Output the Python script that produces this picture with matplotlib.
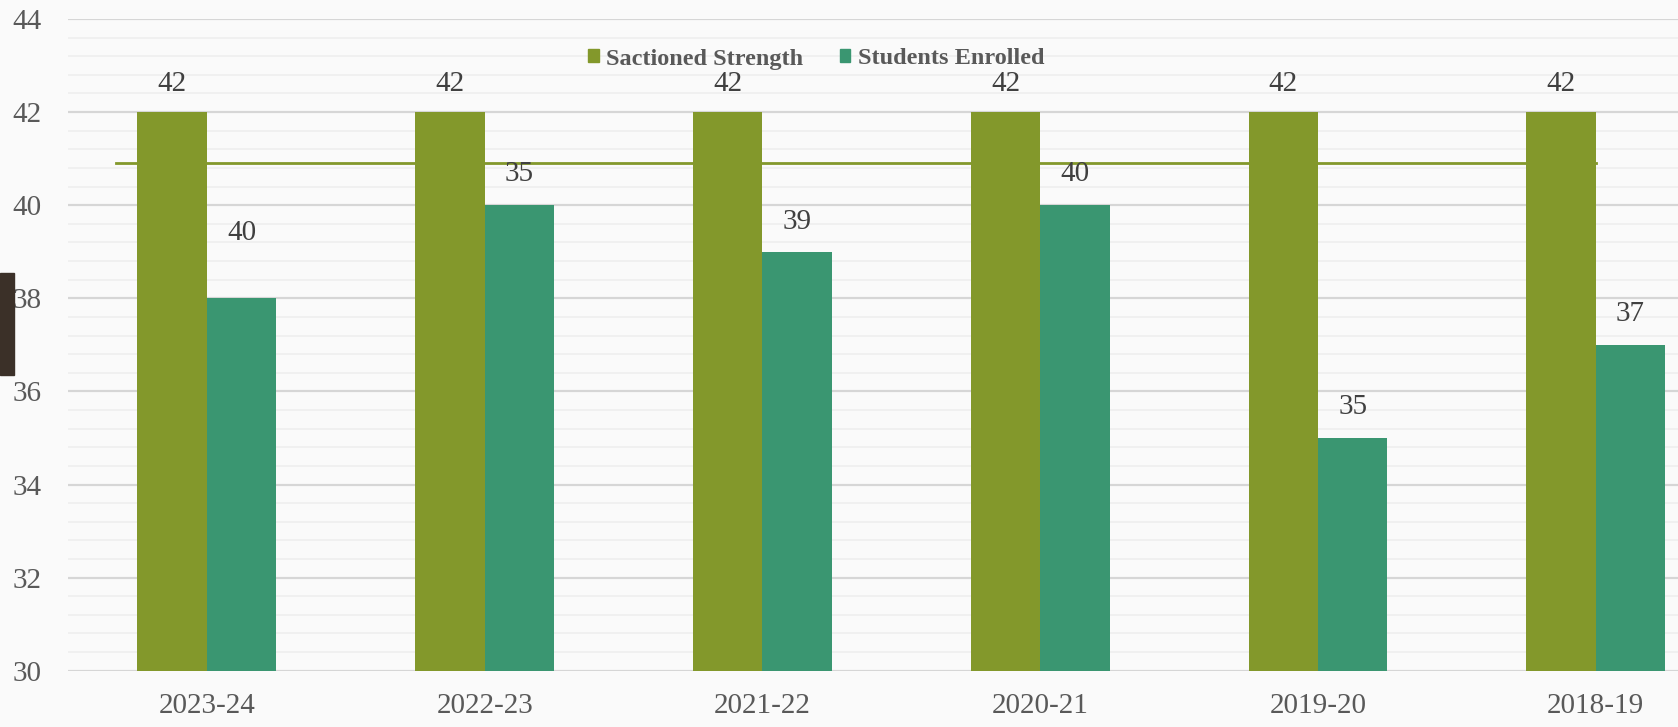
## Sanctioned strength vs students enrolled, bar chart
import numpy as np
import matplotlib
matplotlib.use('Agg')
import matplotlib.pyplot as plt
from matplotlib.patches import Rectangle

## data
years = ['2023-24', '2022-23', '2021-22', '2020-21', '2019-20', '2018-19']
sanctioned = [42, 42, 42, 42, 42, 42]
enrolled = [38, 40, 39, 40, 35, 37]
enrolled_labels = ['40', '35', '39', '40', '35', '37']   # labels as printed on the chart
sanctioned_labels = ['42', '42', '42', '42', '42', '42']
avg_line = 40.91

olive = '#83982B'
teal = '#3A9671'
plt.rcParams['font.family'] = ['Liberation Serif', 'DejaVu Serif']

fig = plt.figure(figsize=(16.78, 7.27), dpi=100)
fig.patch.set_facecolor('#FAFAFA')
ax = fig.add_axes([0.0405, 0.0774, 0.9595, 0.8965])
ax.set_facecolor('#FAFAFA')

x = np.arange(len(years))
w = 0.25
ax.bar(x - w/2, sanctioned, w, color=olive, zorder=3, linewidth=0)
ax.bar(x + w/2, enrolled, w, color=teal, zorder=3, linewidth=0)

# horizontal olive line running behind the bars
ax.plot([-0.328, x[-1]], [avg_line, avg_line], color=olive, lw=2, zorder=2)

# data labels
lift = [1.40, 0.66, 0.64, 0.66, 0.66, 0.66]
for i in range(len(years)):
    ax.text(x[i] - w/2, sanctioned[i] + 0.60, sanctioned_labels[i], ha='center', va='center',
            fontsize=21, color='#404040', zorder=4)
    ax.text(x[i] + w/2, enrolled[i] + lift[i], enrolled_labels[i], ha='center', va='center',
            fontsize=21, color='#404040', zorder=4)

ax.set_ylim(30, 44)
ax.set_xlim(-0.5, 5.296)
ax.set_yticks(np.arange(30, 45, 2))
ax.set_yticks(np.arange(30, 44.01, 0.4), minor=True)
ax.grid(axis='y', which='major', color='#D6D6D6', lw=1.6, zorder=0)
ax.grid(axis='y', which='minor', color='#EFEFEF', lw=1.2, zorder=0)
ax.set_xticks(x)
ax.set_xticklabels(years)
ax.tick_params(axis='both', which='both', length=0, labelsize=21, labelcolor='#595959')
ax.tick_params(axis='y', pad=19)
ax.tick_params(axis='x', pad=16)
for s in ax.spines.values():
    s.set_visible(False)

h1 = Rectangle((0, 0), 1, 1, color=olive)
h2 = Rectangle((0, 0), 1, 1, color=teal)
leg = fig.legend([h1, h2], ['Sactioned Strength', 'Students Enrolled'], loc='center',
                 bbox_to_anchor=(816/1678, 1 - 59/727), ncol=2, frameon=False,
                 prop={'size': 17.5, 'weight': 'bold'}, handlelength=0.45, handleheight=0.45,
                 handletextpad=0.3, columnspacing=1.5)
for t in leg.get_texts():
    t.set_color('#595959')

# dark scrap on the left edge of the original screenshot
fig.patches.append(Rectangle((0, 1 - 375/727), 14/1678, 102/727, transform=fig.transFigure,
                             color='#3B3028', zorder=10))

fig.savefig('out.png', dpi=100, facecolor=fig.get_facecolor())
